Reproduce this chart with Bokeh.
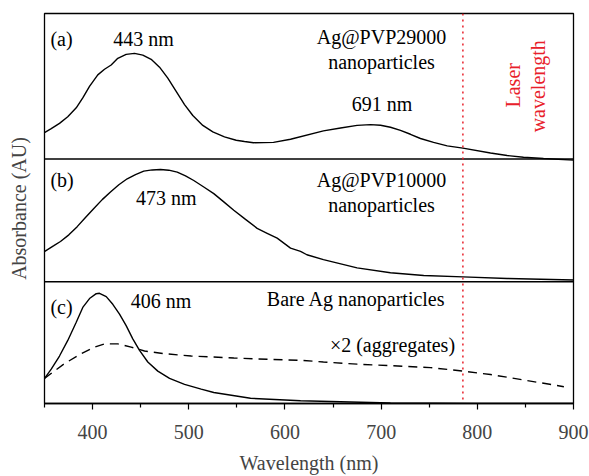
from bokeh.plotting import figure
from bokeh.models import Range1d, FixedTicker, Span, Label
from bokeh.embed import file_html
from bokeh.resources import INLINE

# ---------------- data ----------------
x_ticks = [400, 500, 600, 700, 800, 900]
x_minor = [350, 450, 550, 650, 750, 850]
laser_nm = 785

# (a) Ag@PVP29000
wl_a = [350, 357.0, 365.6, 374.2, 383.0, 389.8, 396.8, 405.4, 412.4, 419.3, 426.2, 434.9,
        443.6, 452.2, 460.9, 469.6, 478.2, 486.9, 495.6, 504.2, 514.6, 525.0, 537.1, 549.3,
        557.9, 567.3, 588.1, 605.8, 640, 657.8, 675, 689, 699.4, 709.7, 720.1, 730.5, 740.9,
        754.5, 768.7, 785, 813.7, 831, 848, 868.8, 900]
abs_a = [0.182, 0.209, 0.245, 0.290, 0.352, 0.420, 0.499, 0.578, 0.617, 0.646, 0.692, 0.719,
         0.726, 0.714, 0.685, 0.631, 0.556, 0.465, 0.374, 0.299, 0.231, 0.186, 0.152, 0.129,
         0.120, 0.112, 0.114, 0.136, 0.193, 0.213, 0.231, 0.236, 0.232, 0.218, 0.197, 0.170, 0.141,
         0.114, 0.090, 0.075, 0.041, 0.024, 0.012, 0.003, -0.008]

# (b) Ag@PVP10000
wl_b = [350.3, 359.7, 366.6, 375.3, 384.0, 392.6, 401.3, 410.0, 418.6, 427.3, 436.0, 444.6,
        453.2, 462.0, 470.6, 479.2, 488.0, 496.6, 505.2, 515.6, 526.0, 536.4, 546.8, 559.0,
        571.1, 581.5, 591.9, 605.8, 616.2, 622.8, 640, 675, 709.7, 744.3, 785, 831, 900]
abs_b = [0.248, 0.294, 0.328, 0.382, 0.449, 0.524, 0.597, 0.669, 0.731, 0.790, 0.839, 0.873,
         0.901, 0.911, 0.914, 0.909, 0.893, 0.863, 0.825, 0.772, 0.718, 0.651, 0.583, 0.508,
         0.435, 0.395, 0.355, 0.274, 0.248, 0.220, 0.180, 0.113, 0.073, 0.051, 0.040, 0.027, 0.014]

# (c) bare Ag, solid
wl_c = [350, 357.0, 365.6, 374.2, 383.0, 389.8, 396.8, 403.8, 407.2, 414.2, 421.0, 428.0,
        434.9, 441.8, 448.8, 457.4, 467.8, 480.0, 495.6, 512.9, 526, 564.2, 616.2, 709.7,
        800, 900]
abs_c = [0.206, 0.282, 0.390, 0.518, 0.667, 0.789, 0.862, 0.902, 0.905, 0.878, 0.815, 0.734,
         0.640, 0.531, 0.437, 0.341, 0.266, 0.206, 0.157, 0.118, 0.090, 0.043, 0.022, 0.004,
         0.001, 0.0]

# (c) aggregates x2, dashed
wl_c2 = [350, 370.8, 388.2, 402.0, 412.4, 426.2, 440.1, 454.0, 474.8, 502.5, 546.9, 581.6,
         616.2, 640, 675, 709.7, 751.3, 785, 813.7, 848.4, 879.6, 890]
abs_c2 = [0.206, 0.328, 0.409, 0.463, 0.490, 0.490, 0.463, 0.431, 0.409, 0.390, 0.374, 0.363,
          0.355, 0.341, 0.323, 0.311, 0.295, 0.266, 0.238, 0.193, 0.152, 0.138]

# ---------------- layout ----------------
FONT = "Liberation Serif"
FS = "20px"
RED = "#e8202a"
TOTAL = 394.0
panels = {"c": (0.0, 123.0), "b": (123.0, 247.0), "a": (247.0, 394.0)}

p = figure(width=589, height=476, output_backend="svg", toolbar_location=None,
           x_range=Range1d(350, 900), y_range=Range1d(0, TOTAL),
           min_border_left=44, min_border_right=16, min_border_top=13, min_border_bottom=69)
p.background_fill_color = "white"
p.border_fill_color = "white"
p.outline_line_color = "black"
p.outline_line_width = 1.3
p.xgrid.visible = False
p.ygrid.visible = False

for name, (lo, hi) in panels.items():
    h = hi - lo
    p.extra_y_ranges[name] = Range1d((0 - lo) / h, (TOTAL - lo) / h)

# x axis
xa = p.xaxis[0]
xa.ticker = FixedTicker(ticks=x_ticks, minor_ticks=x_minor)
xa.axis_label = "Wavelength (nm)"
xa.axis_label_text_font = FONT
xa.axis_label_text_font_size = FS
xa.axis_label_text_font_style = "normal"
xa.axis_label_standoff = 10
xa.major_label_text_font = FONT
xa.major_label_text_font_size = FS
xa.major_label_standoff = 15
xa.major_tick_out = 6
xa.major_tick_in = 0
xa.minor_tick_out = 4
xa.minor_tick_in = 0
xa.axis_line_color = "black"
xa.axis_line_width = 1.3
xa.major_tick_line_width = 1.2
xa.minor_tick_line_width = 1.2

# y axis (label only)
ya = p.yaxis[0]
ya.ticker = FixedTicker(ticks=[])
ya.axis_label = "Absorbance (AU)"
ya.axis_label_text_font = FONT
ya.axis_label_text_font_size = FS
ya.axis_label_text_font_style = "normal"
ya.axis_label_standoff = 15
ya.major_label_standoff = 0
ya.major_tick_out = 0
ya.major_tick_in = 0
ya.minor_tick_out = 0
ya.minor_tick_in = 0
ya.axis_line_color = None

# dividers
for lo in (panels["b"][0], panels["a"][0]):
    p.add_layout(Span(location=lo, dimension="width", line_color="black", line_width=1.3))

# curves
p.line(wl_a, abs_a, y_range_name="a", line_color="black", line_width=1.4)
p.line(wl_b, abs_b, y_range_name="b", line_color="black", line_width=1.4)
p.line(wl_c, abs_c, y_range_name="c", line_color="black", line_width=1.4)
p.line(wl_c2, abs_c2, y_range_name="c", line_color="black", line_width=1.4, line_dash="9 6")

# laser line
p.add_layout(Span(location=laser_nm, dimension="height", line_color=RED,
                  line_width=1.5, line_dash="2 4"))

def lab(x, y, t, align="center", color="black", angle=0, baseline="alphabetic"):
    p.add_layout(Label(x=x, y=y, text=t, text_font=FONT, text_font_size=FS,
                       text_color=color, text_align=align, text_baseline=baseline,
                       angle=angle, angle_units="deg"))

lab(356.2, 368.7, "(a)", align="left")
lab(452.9, 368.7, "443 nm")
lab(700.4, 370.3, "Ag@PVP29000")
lab(700.4, 345.3, "nanoparticles")
lab(700.9, 303.0, "691 nm")
lab(837.1, 321.5, "Laser", color=RED, angle=90, baseline="middle")
lab(863.1, 320.5, "wavelength", color=RED, angle=90, baseline="middle")

lab(356.2, 225.3, "(b)", align="left")
lab(476.5, 207.7, "473 nm")
lab(700.4, 225.3, "Ag@PVP10000")
lab(700.4, 200.3, "nanoparticles")

lab(356.2, 97.0, "(c)", align="left")
lab(471.1, 103.7, "406 nm")
lab(674.1, 105.5, "Bare Ag nanoparticles")
lab(711.8, 58.7, "×2 (aggregates)")

open("out.html", "w").write(file_html(p, INLINE))
